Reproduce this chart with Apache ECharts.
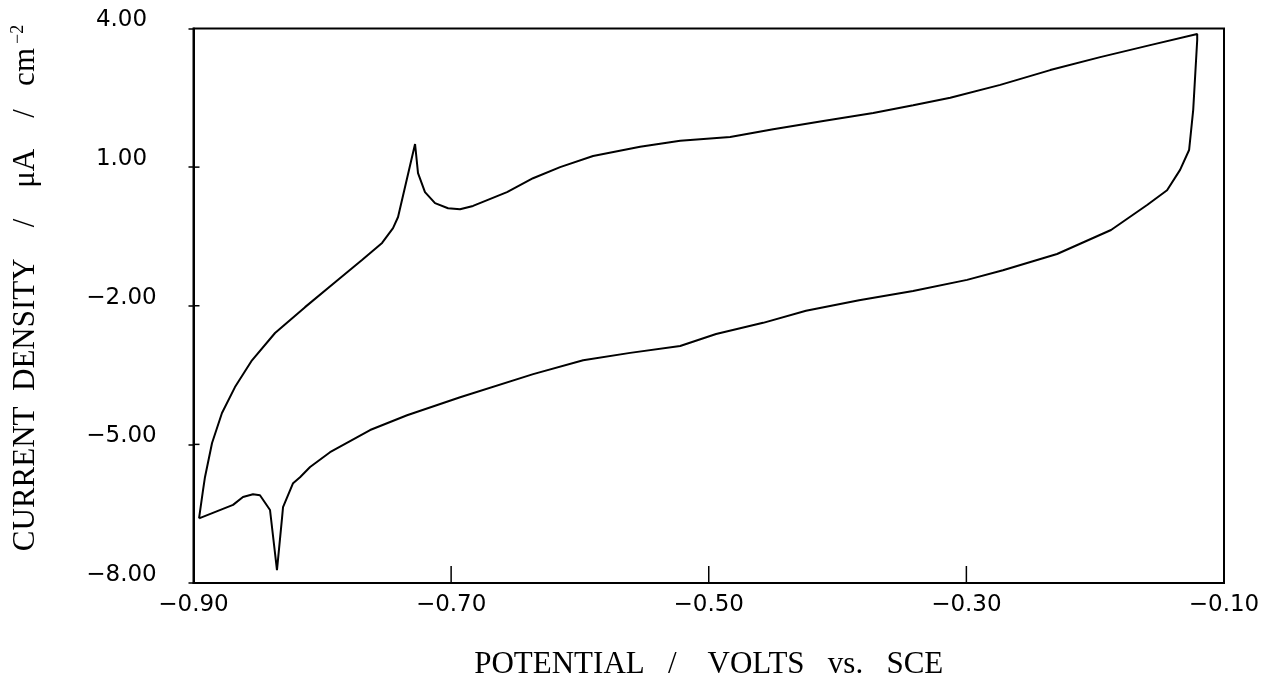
<!DOCTYPE html>
<html>
<head>
<meta charset="utf-8">
<script src="https://cdn.jsdelivr.net/npm/echarts@6/dist/echarts.min.js"></script>
<style>
html,body{margin:0;padding:0;background:#fff;}
#chart{width:1266px;height:688px;}
</style>
</head>
<body>
<div id="chart"></div>
<script>
// Cyclic voltammogram, traced in drawing order (anodic sweep, then cathodic sweep back)
const potential = [
  -0.8957, -0.8926, -0.8911, -0.8856, -0.8779, -0.8678, -0.8546, -0.8367, -0.8134, -0.7901,
  -0.7692, -0.7536, -0.7451, -0.7412, -0.7280, -0.7257, -0.7203, -0.7125, -0.7024, -0.6931,
  -0.6830, -0.6566, -0.6364, -0.6154, -0.5898, -0.5533, -0.5222, -0.4834, -0.4500, -0.4111,
  -0.3723, -0.3413, -0.3125, -0.2737, -0.2349, -0.1961, -0.1573, -0.1208,
  -0.1208, -0.1239, -0.1271, -0.1341, -0.1442, -0.1597, -0.1877, -0.2296, -0.2716, -0.2995,
  -0.3414, -0.3833, -0.4245, -0.4578, -0.4943, -0.5222, -0.5610, -0.5975, -0.6363, -0.6930,
  -0.7342, -0.7629, -0.7940, -0.8095, -0.8173, -0.8227, -0.8305, -0.8313, -0.8352, -0.8406,
  -0.8484, -0.8538, -0.8616, -0.8693, -0.8957
];
const current = [
  -6.60, -5.99, -5.71, -4.97, -4.32, -3.76, -3.18, -2.59, -2.03, -1.49,
  -1.01, -0.64, -0.32, -0.08, 1.50, 0.87, 0.46, 0.22, 0.11, 0.09,
  0.16, 0.46, 0.76, 1.00, 1.24, 1.44, 1.57, 1.65, 1.82, 2.00,
  2.17, 2.34, 2.50, 2.78, 3.10, 3.38, 3.64, 3.88,
  3.75, 2.24, 1.37, 0.94, 0.50, 0.18, -0.36, -0.88, -1.23, -1.44,
  -1.68, -1.88, -2.11, -2.37, -2.61, -2.87, -3.02, -3.18, -3.48, -3.98,
  -4.37, -4.69, -5.17, -5.49, -5.71, -5.84, -6.36, -6.60, -7.72, -6.42,
  -6.10, -6.08, -6.14, -6.31, -6.60
];
const xTicks = [-0.90, -0.70, -0.50, -0.30, -0.10];
const yTicks = [4.00, 1.00, -2.00, -5.00, -8.00];
const xTitle = 'POTENTIAL   /    VOLTS   vs.   SCE';
const yTitleMain = 'CURRENT  DENSITY    /    μA    /   cm';
const yTitleSup = '−2';

const points = potential.map((v, i) => [v, current[i]]);
const fmt = v => (v < 0 ? '\u2212' : '') + Math.abs(v).toFixed(2);

const xMin = xTicks[0], xMax = xTicks[xTicks.length - 1];
const yMin = yTicks[yTicks.length - 1], yMax = yTicks[0];

const chart = echarts.init(document.getElementById('chart'), null, {renderer: 'canvas'});
const numFont = 'DejaVu Sans';
const serif = 'Liberation Serif';

chart.setOption({
  animation: false,
  backgroundColor: '#fff',
  grid: {left: 193.5, right: 42, top: 28.5, bottom: 105, show: true, borderColor: '#000', borderWidth: 2, containLabel: false},
  xAxis: {
    type: 'value',
    min: xMin, max: xMax, interval: 0.2,
    splitLine: {show: false},
    axisLine: {show: true, onZero: false, lineStyle: {color: '#000', width: 2}},
    axisTick: {show: false},
    axisLabel: {
      formatter: fmt, color: '#000', fontFamily: numFont, fontSize: 23, margin: 11,
      showMinLabel: true, showMaxLabel: true
    },
    name: xTitle,
    nameLocation: 'middle',
    nameGap: 66,
    nameTextStyle: {color: '#000', fontFamily: serif, fontSize: 31}
  },
  yAxis: {
    type: 'value',
    min: yMin, max: yMax, interval: 3,
    splitLine: {show: false},
    axisLine: {show: true, onZero: false, lineStyle: {color: '#000', width: 2}},
    axisTick: {show: true, inside: false, length: 5, lineStyle: {color: '#000', width: 1.5}},
    axisLabel: {
      formatter: fmt, color: '#000', fontFamily: numFont, fontSize: 23, margin: 72,
      align: 'center', verticalAlign: 'bottom', lineHeight: 16,
      showMinLabel: true, showMaxLabel: true
    }
  },
  graphic: [{
    type: 'text',
    x: 26, y: 288,
    rotation: Math.PI / 2,
    style: {
      text: '{m|' + yTitleMain + '}{s|' + yTitleSup + '}',
      align: 'center', verticalAlign: 'middle',
      rich: {
        m: {fontFamily: serif, fontSize: 31, lineHeight: 34, fill: '#000'},
        s: {fontFamily: serif, fontSize: 18, verticalAlign: 'top', fill: '#000', padding: [0, 0, 0, 4]}
      }
    }
  }],
  series: [
    {
      type: 'line',
      data: points,
      showSymbol: false,
      smooth: false,
      lineStyle: {color: '#000', width: 2}
    },
    {
      // inward tick marks on the bottom axis, placed through the axis scale
      type: 'custom',
      silent: true,
      clip: false,
      data: xTicks.slice(1, -1).map(v => [v, yMin]),
      renderItem: (params, api) => {
        const p = api.coord([api.value(0), api.value(1)]);
        return {type: 'line', shape: {x1: p[0], y1: p[1], x2: p[0], y2: p[1] - 17},
                style: {stroke: '#000', lineWidth: 1.5}};
      }
    },
    {
      // inward half of the crossing tick marks on the left axis
      type: 'custom',
      silent: true,
      clip: false,
      data: yTicks.slice(1, -1).map(v => [xMin, v]),
      renderItem: (params, api) => {
        const p = api.coord([api.value(0), api.value(1)]);
        return {type: 'line', shape: {x1: p[0], y1: p[1], x2: p[0] + 6, y2: p[1]},
                style: {stroke: '#000', lineWidth: 1.5}};
      }
    }
  ]
});
</script>
</body>
</html>
